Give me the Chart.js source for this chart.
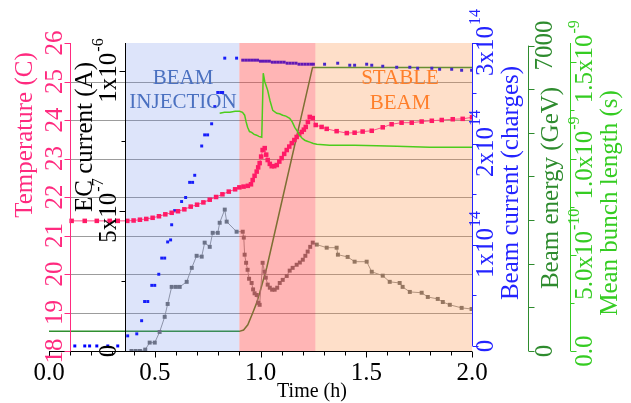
<!DOCTYPE html>
<html>
<head>
<meta charset="utf-8">
<script src="https://cdn.jsdelivr.net/npm/chart.js@4/dist/chart.umd.min.js"></script>
<style>
  html, body { margin: 0; padding: 0; background: #fff; }
  #wrap { width: 631px; height: 403px; }
</style>
</head>
<body>
<div id="wrap"><canvas id="chart" width="631" height="403"></canvas></div>
<script>
// ---- time axis (h) ----
const timeTicks = [0, 0.5, 1.0, 1.5, 2.0];
const timeLabels = ['0.0', '0.5', '1.0', '1.5', '2.0'];
const timeMinor = [0.1, 0.2, 0.3, 0.4, 0.6, 0.7, 0.8, 0.9, 1.1, 1.2, 1.3, 1.4, 1.6, 1.7, 1.8, 1.9];

// machine phases (h)
const phaseStart = [0.361, 0.9, 1.26];
const phaseEnd = [0.9, 1.26, 2.0];

// ---- temperature (C) ----
const tempTime = [0.107, 0.169, 0.226, 0.287, 0.325, 0.37, 0.40, 0.43, 0.46, 0.49, 0.52, 0.55, 0.58, 0.61,
  0.64, 0.67, 0.70, 0.73, 0.76, 0.79, 0.82, 0.85, 0.88, 0.90, 0.92, 0.94, 0.955, 0.963, 0.972, 0.982, 0.989,
  0.996, 1.003, 1.010, 1.020, 1.027, 1.034, 1.044, 1.053, 1.065, 1.077, 1.089, 1.100, 1.112, 1.124, 1.136,
  1.148, 1.160, 1.171, 1.183, 1.195, 1.205, 1.214, 1.224, 1.233, 1.247, 1.261, 1.289, 1.313, 1.360, 1.408,
  1.445, 1.483, 1.526, 1.578, 1.620, 1.667, 1.715, 1.762, 1.810, 1.857, 1.909, 1.956, 2.0];
const tempValue = [21.38, 21.38, 21.38, 21.38, 21.38, 21.38, 21.39, 21.41, 21.43, 21.46, 21.50, 21.55, 21.59, 21.63,
  21.68, 21.75, 21.80, 21.86, 21.93, 22.00, 22.07, 22.14, 22.20, 22.25, 22.27, 22.29, 22.33, 22.44, 22.55, 22.66, 22.77,
  22.88, 23.05, 23.22, 23.27, 23.10, 22.96, 22.86, 22.80, 22.80, 22.83, 22.92, 23.01, 23.12, 23.22, 23.31,
  23.40, 23.48, 23.56, 23.63, 23.69, 23.75, 23.82, 23.95, 24.08, 24.05, 23.87, 23.82, 23.77, 23.71, 23.66,
  23.67, 23.70, 23.72, 23.81, 23.89, 23.93, 23.93, 23.96, 23.98, 24.00, 24.02, 24.03, 24.07];
const tempTicks = [18, 19, 20, 21, 22, 23, 24, 25, 26];
const tempLabels = ['18', '19', '20', '21', '22', '23', '24', '25', '26'];

// ---- EC current, in 1e-6 A ----
const ecTime = [0.39, 0.41, 0.43, 0.455, 0.476, 0.50, 0.523, 0.547, 0.561, 0.58, 0.60, 0.618, 0.651, 0.675,
  0.698, 0.722, 0.736, 0.76, 0.774, 0.798, 0.807, 0.831, 0.840, 0.887, 0.916, 0.921, 0.925, 0.932, 0.939,
  0.946, 0.958, 0.965, 0.972, 0.982, 0.990, 0.996, 1.01, 1.019, 1.025, 1.034, 1.044, 1.055, 1.067, 1.079,
  1.091, 1.105, 1.124, 1.138, 1.152, 1.171, 1.186, 1.20, 1.212, 1.223, 1.235, 1.247, 1.266, 1.313, 1.36,
  1.366, 1.412, 1.445, 1.502, 1.526, 1.578, 1.611, 1.658, 1.672, 1.706, 1.762, 1.791, 1.838, 1.862, 1.895,
  1.951, 1.998];
const ecValue = [0.0, 0.0, 0.0, 0.005, 0.03, 0.03, 0.068, 0.122, 0.168, 0.229, 0.229, 0.229, 0.247, 0.297,
  0.34, 0.337, 0.387, 0.372, 0.422, 0.422, 0.458, 0.505, 0.462, 0.426, 0.426, 0.405, 0.344, 0.315, 0.29,
  0.258, 0.243, 0.22, 0.206, 0.2, 0.172, 0.165, 0.315, 0.283, 0.262, 0.237, 0.226, 0.219, 0.219, 0.226,
  0.243, 0.254, 0.268, 0.287, 0.297, 0.308, 0.316, 0.326, 0.340, 0.355, 0.372, 0.387, 0.38, 0.369, 0.369,
  0.344, 0.336, 0.319, 0.319, 0.283, 0.269, 0.247, 0.243, 0.229, 0.211, 0.208, 0.193, 0.186, 0.175, 0.165,
  0.154, 0.150];
const ecTicks = [0, 0.5, 1.0];
const ecLabels = ['0', ['5x10', '-7'], ['1x10', '-6']];
const ecMinor = [0.25, 0.75];

// ---- beam current, in 1e14 charges ----
const beamTime = [0.122, 0.169, 0.192, 0.226, 0.278, 0.325, 0.372, 0.415, 0.438, 0.452, 0.467, 0.486, 0.50,
  0.519, 0.533, 0.547, 0.561, 0.575, 0.58, 0.594, 0.627, 0.646, 0.665, 0.679, 0.689, 0.722, 0.736, 0.75,
  0.769, 0.784, 0.798, 0.812, 0.821, 0.831, 0.887, 0.916, 0.93, 0.944, 0.958, 0.972, 0.986, 1.0, 1.014,
  1.028, 1.042, 1.056, 1.07, 1.084, 1.098, 1.112, 1.126, 1.14, 1.154, 1.168, 1.182, 1.196, 1.21, 1.224,
  1.238, 1.25, 1.303, 1.365, 1.422, 1.445, 1.502, 1.526, 1.578, 1.644, 1.706, 1.743, 1.81, 1.847, 1.904,
  1.951, 1.998];
const beamValue = [0, 0, 0, 0, 0, 0, 0.10, 0.12, 0.25, 0.44, 0.44, 0.60, 0.60,
  0.71, 0.87, 0.87, 1.03, 1.05, 1.20, 1.34, 1.43, 1.47, 1.62, 1.62, 1.69, 1.98, 2.09, 2.09,
  2.20, 2.37, 2.51, 2.51, 2.51, 2.85, 2.85, 2.83, 2.83, 2.83, 2.83, 2.83, 2.83, 2.82, 2.82,
  2.82, 2.82, 2.81, 2.81, 2.81, 2.81, 2.81, 2.80, 2.80, 2.80, 2.80, 2.79, 2.79, 2.79, 2.79,
  2.79, 2.79, 2.79, 2.80, 2.78, 2.78, 2.79, 2.78, 2.77, 2.76, 2.76, 2.75, 2.75, 2.74, 2.74,
  2.73, 2.73];
const beamTicks = [0, 1, 2, 3];
const beamLabels = ['0', ['1x10', '14'], ['2x10', '14'], ['3x10', '14']];
const beamMinor = [0.5, 1.5, 2.5];

// ---- beam energy (GeV) ----
const energyTime = [0, 0.90, 0.92, 0.94, 0.963, 0.98, 0.996, 1.03, 1.124, 1.246, 2.0];
const energyValue = [450, 450, 480, 600, 870, 1080, 1330, 1920, 3920, 6500, 6500];
const energyTicks = [0, 1000, 2000, 3000, 4000, 5000, 6000, 7000];
const energyLabels = ['0', '', '', '', '', '', '', '7000'];

// ---- mean bunch length, in 1e-9 s ----
const bunchTime = [0.807, 0.83, 0.855, 0.88, 0.901, 0.915, 0.925, 0.932, 0.939, 0.948, 0.958, 0.97, 0.982,
  0.992, 1.006, 1.013, 1.02, 1.034, 1.045, 1.058, 1.077, 1.09, 1.105, 1.12, 1.138, 1.15, 1.162, 1.175,
  1.185, 1.197, 1.209, 1.221, 1.233, 1.25, 1.266, 1.327, 1.445, 1.55, 1.644, 1.8, 1.956, 2.0];
const bunchValue = [1.235, 1.24, 1.24, 1.245, 1.245, 1.24, 1.225, 1.19, 1.162, 1.14, 1.136, 1.125, 1.121,
  1.115, 1.11, 1.443, 1.40, 1.354, 1.30, 1.25, 1.235, 1.232, 1.225, 1.22, 1.209, 1.19, 1.162, 1.14,
  1.12, 1.105, 1.095, 1.09, 1.085, 1.078, 1.074, 1.069, 1.069, 1.066, 1.064, 1.059, 1.059, 1.059];
const bunchTicks = [0, 0.5, 1.0, 1.5];
const bunchLabels = ['0.0', ['5.0x10', '-10'], ['1.0x10', '-9'], ['1.5x10', '-9']];
const bunchMinor = [0.25, 0.75, 1.25];

const SERIF = '"Liberation Serif", "Times New Roman", serif';
const phaseColors = ['rgba(100,130,230,0.22)', 'rgba(255,60,60,0.38)', 'rgba(250,140,60,0.28)'];
const TEMP_AXIS_AT = 0.1;
const EC_AXIS_AT = 0.361;

const pts = (xs, ys) => xs.map((x, i) => ({ x, y: ys[i] }));

// y axes are drawn by hand: rotated labels, offset positions
const yAxes = [
  { scale: 'yTemp', at: TEMP_AXIS_AT, side: -1, color: '#ff2a7f', ticks: tempTicks, labels: tempLabels,
    minor: [], gap: 15, title: 'Temperature (C)', titleX: 25, titleY: 135 },
  { scale: 'yEC', at: EC_AXIS_AT, side: -1, color: '#000000', ticks: ecTicks, labels: ecLabels,
    minor: ecMinor, gap: 16, toTop: true, title: 'EC current (A)', titleX: 85, titleY: 137 },
  { scale: 'yBeam', offset: 0, side: 1, color: '#2323ff', ticks: beamTicks, labels: beamLabels,
    minor: beamMinor, gap: 14, title: 'Beam current (charges)', titleX: 511, titleY: 183 },
  { scale: 'yEnergy', offset: 55.5, side: 1, color: '#2e8b2e', ticks: energyTicks, labels: energyLabels,
    minor: [], gap: 17, title: 'Beam energy (GeV)', titleX: 551, titleY: 188 },
  { scale: 'yBunch', offset: 98, side: 1, color: '#35cc22', ticks: bunchTicks, labels: bunchLabels,
    minor: bunchMinor, gap: 15, toTop: true, title: 'Mean bunch length (s)', titleX: 610, titleY: 203 },
];

function drawVerticalLabel(ctx, x, y, label, size, color) {
  // reads bottom-to-top; superscript sits to the left of the baseline
  const base = Array.isArray(label) ? label[0] : label;
  const sup = Array.isArray(label) ? label[1] : '';
  const supSize = Math.round(size * 0.62);
  ctx.save();
  ctx.translate(x, y);
  ctx.rotate(-Math.PI / 2);
  ctx.fillStyle = color;
  ctx.textBaseline = 'middle';
  ctx.textAlign = 'left';
  ctx.font = `${size}px ${SERIF}`;
  const wb = ctx.measureText(base).width;
  ctx.font = `${supSize}px ${SERIF}`;
  const ws = sup ? ctx.measureText(sup).width : 0;
  const start = -(wb + ws) / 2;
  ctx.font = `${size}px ${SERIF}`;
  ctx.fillText(base, start, 0);
  if (sup) {
    ctx.font = `${supSize}px ${SERIF}`;
    ctx.fillText(sup, start + wb + 1, -size * 0.42);
  }
  ctx.restore();
}

function hLine(ctx, x1, x2, y) {
  ctx.beginPath(); ctx.moveTo(x1, y); ctx.lineTo(x2, y); ctx.stroke();
}

const decor = {
  id: 'decor',
  beforeDatasetsDraw(chart) {
    const { ctx, chartArea, scales } = chart;
    const x0 = scales.x.getPixelForValue(TEMP_AXIS_AT);
    ctx.save();
    ctx.strokeStyle = '#9c9c9c';
    ctx.lineWidth = 1;
    tempTicks.slice(1, -1).forEach(v => {
      hLine(ctx, x0, chartArea.right, Math.round(scales.yTemp.getPixelForValue(v)) + 0.5);
    });
    ctx.restore();
  },
  beforeDatasetDraw(chart, args) {
    // phase bands lie over energy, beam and EC layers, under temperature and bunch length
    if (args.index !== 3) return;
    const { ctx, chartArea, scales } = chart;
    ctx.save();
    phaseStart.forEach((s, i) => {
      const xa = scales.x.getPixelForValue(s);
      const xb = scales.x.getPixelForValue(phaseEnd[i]);
      ctx.fillStyle = phaseColors[i];
      ctx.fillRect(xa, chartArea.top, xb - xa, chartArea.bottom - chartArea.top);
    });
    ctx.restore();
  },
  afterDraw(chart) {
    const { ctx, chartArea, scales } = chart;
    ctx.save();
    ctx.lineWidth = 1;

    // time axis
    const yb = Math.round(chartArea.bottom) + 0.5;
    ctx.strokeStyle = '#000';
    hLine(ctx, chartArea.left, chartArea.right, yb);
    ctx.beginPath();
    timeTicks.forEach(v => {
      const x = Math.round(scales.x.getPixelForValue(v)) + 0.5;
      ctx.moveTo(x, yb); ctx.lineTo(x, yb + 6);
    });
    timeMinor.forEach(v => {
      const x = Math.round(scales.x.getPixelForValue(v)) + 0.5;
      ctx.moveTo(x, yb); ctx.lineTo(x, yb + 4);
    });
    ctx.stroke();
    ctx.fillStyle = '#000';
    ctx.font = `25px ${SERIF}`;
    ctx.textAlign = 'center';
    ctx.textBaseline = 'middle';
    timeTicks.forEach((v, i) => ctx.fillText(timeLabels[i], scales.x.getPixelForValue(v), chartArea.bottom + 22));
    ctx.font = `20px ${SERIF}`;
    ctx.fillText('Time (h)', 312, 392);

    // value axes
    yAxes.forEach(ax => {
      const sc = scales[ax.scale];
      const x = Math.round(ax.at !== undefined ? scales.x.getPixelForValue(ax.at) : chartArea.right + ax.offset) + 0.5;
      const yTop = ax.toTop ? chartArea.top : sc.getPixelForValue(ax.ticks[ax.ticks.length - 1]);
      const yBot = sc.getPixelForValue(ax.ticks[0]);
      ctx.strokeStyle = ax.color;
      ctx.beginPath(); ctx.moveTo(x, yTop); ctx.lineTo(x, yBot); ctx.stroke();
      ctx.beginPath();
      ax.ticks.forEach(v => {
        const y = Math.round(sc.getPixelForValue(v)) + 0.5;
        ctx.moveTo(x, y); ctx.lineTo(x + ax.side * 6, y);
      });
      ax.minor.forEach(v => {
        const y = Math.round(sc.getPixelForValue(v)) + 0.5;
        ctx.moveTo(x, y); ctx.lineTo(x + ax.side * 4, y);
      });
      ctx.stroke();
      ax.ticks.forEach((v, i) => {
        if (ax.labels[i]) drawVerticalLabel(ctx, x + ax.side * ax.gap, sc.getPixelForValue(v), ax.labels[i], 25, ax.color);
      });
      drawVerticalLabel(ctx, ax.titleX, ax.titleY, ax.title, 25, ax.color);
    });

    // phase captions
    ctx.font = `21px ${SERIF}`;
    ctx.textAlign = 'center';
    ctx.textBaseline = 'middle';
    ctx.fillStyle = '#4a70c0';
    ctx.fillText('BEAM', 183, 78);
    ctx.fillText('INJECTION', 183, 102);
    ctx.fillStyle = '#ff7f2a';
    ctx.fillText('STABLE', 400, 78);
    ctx.fillText('BEAM', 400, 103);
    ctx.restore();
  }
};

new Chart(document.getElementById('chart'), {
  type: 'line',
  data: {
    datasets: [
      { label: 'Beam energy', data: pts(energyTime, energyValue), yAxisID: 'yEnergy', order: 5,
        borderColor: '#2f8f2f', borderWidth: 1.5, pointRadius: 0, tension: 0 },
      { label: 'Beam current', data: pts(beamTime, beamValue), yAxisID: 'yBeam', order: 4, showLine: false,
        pointStyle: 'rect', pointRadius: 2.1, pointBorderWidth: 0, pointBackgroundColor: '#0000ff' },
      { label: 'EC current', data: pts(ecTime, ecValue), yAxisID: 'yEC', order: 3,
        borderColor: 'rgba(140,140,140,0.9)', borderWidth: 1, tension: 0,
        pointStyle: 'rect', pointRadius: 2.8, pointBorderWidth: 0, pointBackgroundColor: '#6e6e6e' },
      { label: 'Temperature', data: pts(tempTime, tempValue), yAxisID: 'yTemp', order: 2,
        borderColor: '#ff4d88', borderWidth: 1, tension: 0,
        pointStyle: 'rect', pointRadius: 3.2, pointBorderWidth: 0, pointBackgroundColor: '#ff1a66' },
      { label: 'Mean bunch length', data: pts(bunchTime, bunchValue), yAxisID: 'yBunch', order: 1,
        borderColor: '#4ccc1c', borderWidth: 1.5, pointRadius: 0, tension: 0 }
    ]
  },
  options: {
    responsive: false,
    animation: false,
    events: [],
    layout: { padding: { left: 49, right: 159, top: 43, bottom: 52 } },
    plugins: { legend: { display: false }, tooltip: { enabled: false } },
    scales: {
      x: { type: 'linear', min: 0, max: 2, display: false },
      yTemp: { type: 'linear', position: 'left', min: 18, max: 26, display: false },
      yEC: { type: 'linear', position: 'left', min: 0, max: 1.1, display: false },
      yBeam: { type: 'linear', position: 'right', min: -0.05, max: 3.0, display: false },
      yEnergy: { type: 'linear', position: 'right', min: 0, max: 7060, display: false },
      yBunch: { type: 'linear', position: 'right', min: 0, max: 1.6, display: false }
    }
  },
  plugins: [decor]
});
</script>
</body>
</html>
